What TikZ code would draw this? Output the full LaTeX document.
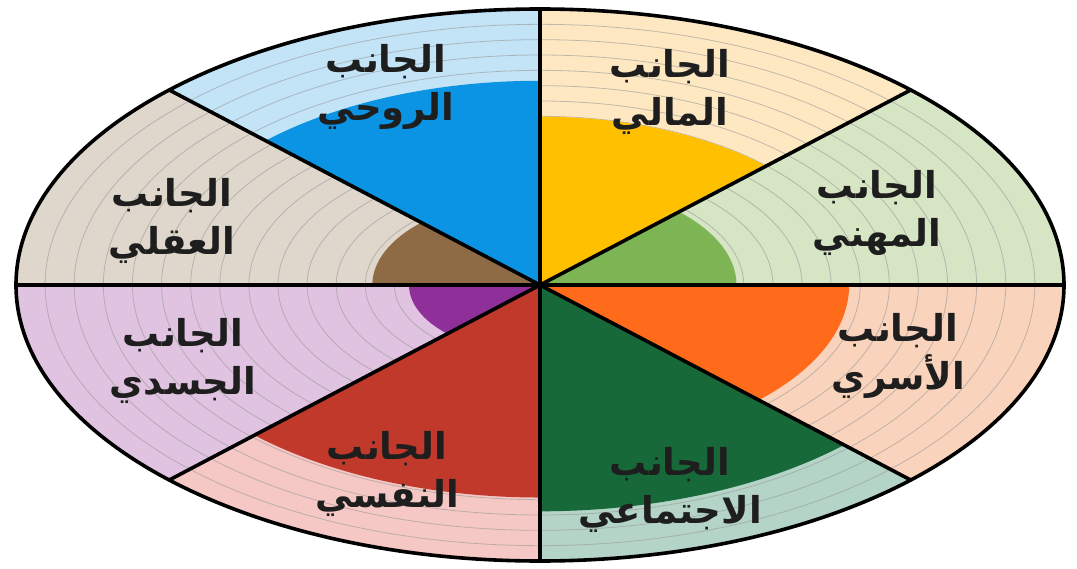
\documentclass[tikz,border=0pt]{standalone}
\usepackage{fontspec}
\newfontfamily\arabicfont[Script=Arabic]{DejaVu Sans}
\TeXXeTstate=1
\definecolor{profbg}{HTML}{D6E5C4}\definecolor{proffg}{HTML}{7DB554}
\definecolor{finbg}{HTML}{FDE8C1}\definecolor{finfg}{HTML}{FFC000}
\definecolor{spirbg}{HTML}{C3E3F7}\definecolor{spirfg}{HTML}{0A94E3}
\definecolor{intbg}{HTML}{DFD7CC}\definecolor{intfg}{HTML}{8E6B45}
\definecolor{physbg}{HTML}{DFC3E0}\definecolor{physfg}{HTML}{8F2F9A}
\definecolor{psybg}{HTML}{F5C8C5}\definecolor{psyfg}{HTML}{C0392B}
\definecolor{socbg}{HTML}{B3D4C6}\definecolor{socfg}{HTML}{17693A}
\definecolor{fambg}{HTML}{FAD3BC}\definecolor{famfg}{HTML}{FF6B1A}
\definecolor{txt}{HTML}{1E1E1E}
\tikzset{
  lbl/.style={text=txt, align=center, font=\arabicfont\bfseries\fontsize{37}{48}\selectfont, inner sep=0pt},
  ring/.style={draw=gray!80, line width=0.8pt, opacity=0.6},
  divider/.style={draw=black, line width=3.6pt},
}
\newcommand{\sect}[5]{%
  \fill[#3] (0,0) -- (#1:1) arc[start angle=#1,end angle=#2,radius=1] -- cycle;}
\newcommand{\sectfill}[5]{%
  \fill[#4] (0,0) -- (#1:#5) arc[start angle=#1,end angle=#2,radius=#5] -- cycle;}
\begin{document}
\begin{tikzpicture}[x=1pt,y=1pt]
\useasboundingbox[fill=white] (-540,-283) rectangle (537,285);
\begin{scope}[xscale=524,yscale=276]
  \sect{0}{45}{profbg}{proffg}{.375}
  \sect{45}{90}{finbg}{finfg}{.61}
  \sect{90}{135}{spirbg}{spirfg}{.74}
  \sect{135}{180}{intbg}{intfg}{.32}
  \sect{180}{225}{physbg}{physfg}{.25}
  \sect{225}{270}{psybg}{psyfg}{.77}
  \sect{270}{315}{socbg}{socfg}{.82}
  \sect{315}{360}{fambg}{famfg}{.59}
  \foreach \k in {1,...,17}{
    \draw[ring] (0,0) circle[radius=\k/18];
  }
  \sectfill{0}{45}{profbg}{proffg}{.375}
  \sectfill{45}{90}{finbg}{finfg}{.61}
  \sectfill{90}{135}{spirbg}{spirfg}{.74}
  \sectfill{135}{180}{intbg}{intfg}{.32}
  \sectfill{180}{225}{physbg}{physfg}{.25}
  \sectfill{225}{270}{psybg}{psyfg}{.77}
  \sectfill{270}{315}{socbg}{socfg}{.82}
  \sectfill{315}{360}{fambg}{famfg}{.59}
  \coordinate (O) at (0,0);
  \foreach \a/\n in {0/e0,45/e1,90/e2,135/e3,180/e4,225/e5,270/e6,315/e7}{
    \coordinate (\n) at (\a:1);
  }
  \draw[divider] (e0) -- (e4);
  \draw[divider] (e1) -- (e5);
  \draw[divider] (e2) -- (e6);
  \draw[divider] (e3) -- (e7);
  \draw[divider] (O) circle[radius=1];
\end{scope}
\node[lbl] (fin)  at (130,193)  {\beginR الجانب\endR\\\beginR المالي\endR};
\node[lbl] (prof) at (337,72)   {\beginR الجانب\endR\\\beginR المهني\endR};
\node[lbl] (spir) at (-154,198) {\beginR الجانب\endR\\\beginR الروحي\endR};
\node[lbl] (int)  at (-368,64)  {\beginR الجانب\endR\\\beginR العقلي\endR};
\node[lbl] (phys) at (-357,-76) {\beginR الجانب\endR\\\beginR الجسدي\endR};
\node[lbl] (psy)  at (-153,-189){\beginR الجانب\endR\\\beginR النفسي\endR};
\node[lbl] (fam)  at (358,-71)  {\beginR الجانب\endR\\\beginR الأسري\endR};
\node[lbl] (soc)  at (130,-205) {\beginR الجانب\endR\\\beginR الاجتماعي\endR};
\end{tikzpicture}
\end{document}
